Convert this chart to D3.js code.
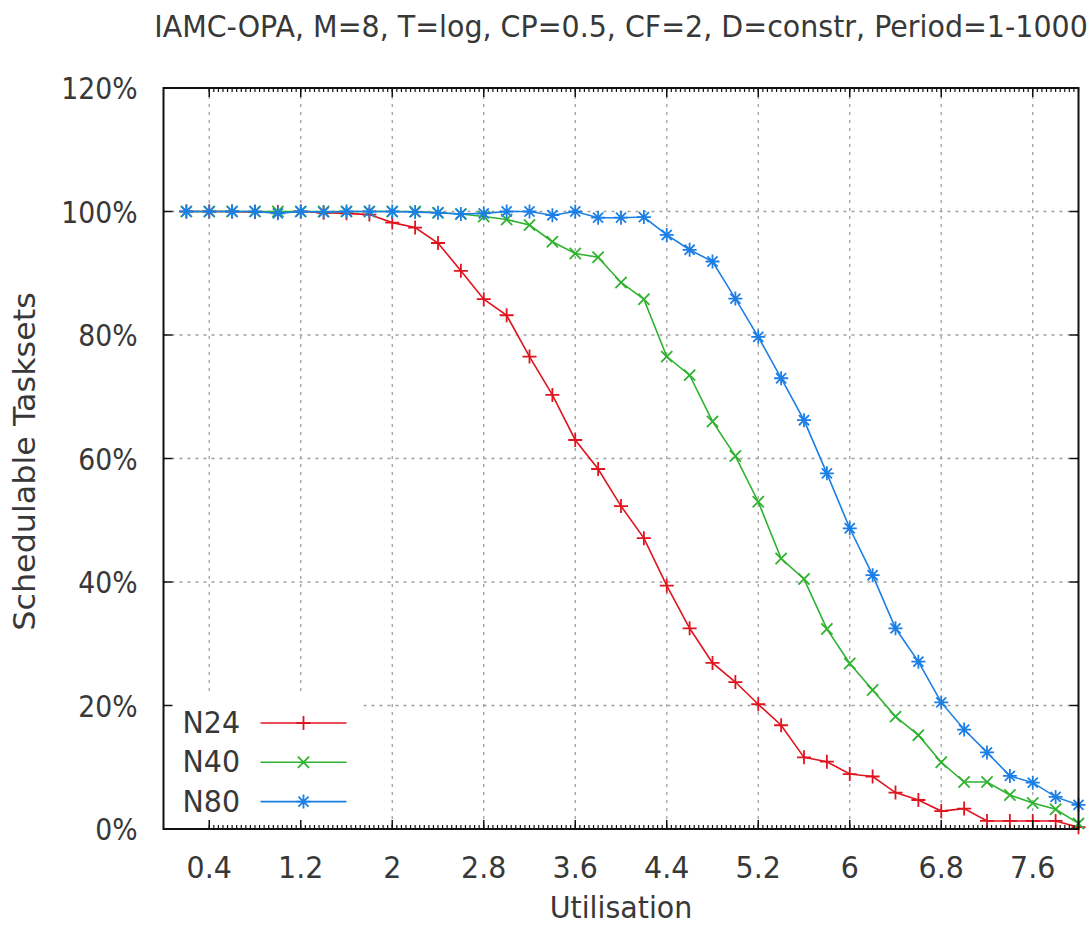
<!DOCTYPE html>
<html>
<head>
<meta charset="utf-8">
<script src="https://cdn.jsdelivr.net/npm/d3@7"></script>
<style>
body{margin:0;background:#fff}
svg text{font-family:"DejaVu Sans",sans-serif;fill:#383838}
</style>
</head>
<body>
<svg width="1090" height="940"></svg>
<script>
// utilisation steps on the x axis
const utilisation = [0.2,0.4,0.6,0.8,1.0,1.2,1.4,1.6,1.8,2.0,2.2,2.4,2.6,2.8,3.0,3.2,3.4,3.6,3.8,4.0,
    4.2,4.4,4.6,4.8,5.0,5.2,5.4,5.6,5.8,6.0,6.2,6.4,6.6,6.8,7.0,7.2,7.4,7.6,7.8,8.0]

const n24 = [100,100,100,99.9,99.9,100,99.8,99.7,99.5,98.2,97.4,94.9,90.4,85.8,83.2,76.5,70.3,63.0,58.3,52.3,
    47.1,39.4,32.5,26.9,23.8,20.2,16.8,11.6,10.9,8.9,8.5,5.9,4.7,2.9,3.3,1.3,1.3,1.3,1.3,0.3]
const n40 = [100,100,100,100,100,100,100,100,100,100,100,99.8,99.6,99.2,98.7,97.8,95.1,93.2,92.6,88.5,
    85.8,76.5,73.5,66.0,60.4,53.0,43.8,40.5,32.4,26.8,22.5,18.2,15.2,10.8,7.6,7.6,5.5,4.2,3.2,0.9]
const n80 = [100,100,100,100,99.7,100,99.9,100,100,100,99.9,99.8,99.6,99.7,100,100,99.4,100,99.0,99.0,
    99.1,96.2,93.8,91.9,85.9,79.7,73.0,66.2,57.6,48.7,41.1,32.5,27.1,20.5,16.1,12.4,8.6,7.5,5.2,3.9]

const seriesNames = ["N24","N40","N80"]
const xTicks = [0.4,1.2,2,2.8,3.6,4.4,5.2,6,6.8,7.6]
const yTicks = [0,20,40,60,80,100,120]
const title = "IAMC-OPA, M=8, T=log, CP=0.5, CF=2, D=constr, Period=1-1000"

const svg = d3.select("svg")
const margin = {top:88,right:11.5,bottom:111,left:163.5}
const width = +svg.attr("width") - margin.left - margin.right
const height = +svg.attr("height") - margin.top - margin.bottom
const fontSize = 30

const chart = svg.append("g")
    .attr("transform", `translate(${margin.left},${margin.top})`)

const x = d3.scaleLinear().domain([0,8]).range([0,width])
const y = d3.scaleLinear().domain([0,120]).range([height,0])

const color = d3.scaleOrdinal().domain(seriesNames).range(["#e0141e","#2fb22f","#1c7fe6"])

// the png was stretched, so text is squeezed a little along its length
function label(parent, tx, ty, str, anchor, rot, sx){
    return parent.append("text")
        .attr("transform", `translate(${tx},${ty})${rot ? ` rotate(${rot})` : ""} scale(${sx || 0.95},1)`)
        .attr("text-anchor", anchor || "middle")
        .style("font-size", fontSize + "px")
        .text(str)
}

// grid
chart.append("g").selectAll("line.vg")
    .data(xTicks).enter().append("line")
    .attr("x1", d=>x(d)).attr("x2", d=>x(d))
    .attr("y1", 0).attr("y2", height)
    .attr("stroke", "#a0a0a0").attr("stroke-width", 1.3).attr("stroke-dasharray", "3,5")
chart.append("g").selectAll("line.hg")
    .data(yTicks.slice(1, -1)).enter().append("line")
    .attr("x1", 0).attr("x2", width)
    .attr("y1", d=>y(d)).attr("y2", d=>y(d))
    .attr("stroke", "#a0a0a0").attr("stroke-width", 1.3).attr("stroke-dasharray", "3,5")

// legend box hides the grid under it
chart.append("rect")
    .attr("x", 1).attr("y", 607).attr("width", 199).attr("height", height - 608)
    .attr("fill", "#fff")

function markerPath(name, s){
    const p = d3.path()
    if (name === "N24" || name === "N80"){
        p.moveTo(-s,0); p.lineTo(s,0); p.moveTo(0,-s); p.lineTo(0,s)
    }
    if (name === "N40" || name === "N80"){
        const t = name === "N80" ? s*0.72 : s*0.8
        p.moveTo(-t,-t); p.lineTo(t,t); p.moveTo(-t,t); p.lineTo(t,-t)
    }
    return p.toString()
}

const series = [
    {name:"N24", values:n24},
    {name:"N40", values:n40},
    {name:"N80", values:n80}
]

const line = d3.line()
    .x((d,i)=>x(utilisation[i]))
    .y(d=>y(d))

series.forEach(s=>{
    const g = chart.append("g")
    g.append("path")
        .datum(s.values)
        .attr("fill", "none")
        .attr("stroke", color(s.name))
        .attr("stroke-width", 1.6)
        .attr("d", line)
    g.selectAll("path.mk")
        .data(s.values).enter().append("path")
        .attr("class", "mk")
        .attr("transform", (d,i)=>`translate(${x(utilisation[i])},${y(d)})`)
        .attr("d", markerPath(s.name, 7))
        .attr("fill", "none")
        .attr("stroke", color(s.name))
        .attr("stroke-width", 1.8)
})

// frame and ticks
chart.append("rect")
    .attr("width", width).attr("height", height)
    .attr("fill", "none").attr("stroke", "#111").attr("stroke-width", 2)

const minor = d3.range(10, 201).map(i=>i*0.04)
chart.append("g").selectAll("line")
    .data(minor).enter().append("line")
    .attr("x1", d=>x(d)).attr("x2", d=>x(d))
    .attr("y1", height).attr("y2", height - 4)
    .attr("stroke", "#111").attr("stroke-width", 1.2)
chart.append("g").selectAll("line")
    .data(minor).enter().append("line")
    .attr("x1", d=>x(d)).attr("x2", d=>x(d))
    .attr("y1", 0).attr("y2", 4)
    .attr("stroke", "#111").attr("stroke-width", 1.2)

chart.append("g").selectAll("line")
    .data(xTicks).enter().append("line")
    .attr("x1", d=>x(d)).attr("x2", d=>x(d))
    .attr("y1", height).attr("y2", height - 9)
    .attr("stroke", "#111").attr("stroke-width", 1.5)
chart.append("g").selectAll("line")
    .data(xTicks).enter().append("line")
    .attr("x1", d=>x(d)).attr("x2", d=>x(d))
    .attr("y1", 0).attr("y2", 9)
    .attr("stroke", "#111").attr("stroke-width", 1.5)
chart.append("g").selectAll("line")
    .data(yTicks).enter().append("line")
    .attr("x1", 0).attr("x2", 9)
    .attr("y1", d=>y(d)).attr("y2", d=>y(d))
    .attr("stroke", "#111").attr("stroke-width", 1.5)
chart.append("g").selectAll("line")
    .data(yTicks).enter().append("line")
    .attr("x1", width).attr("x2", width - 9)
    .attr("y1", d=>y(d)).attr("y2", d=>y(d))
    .attr("stroke", "#111").attr("stroke-width", 1.5)

// tick labels
xTicks.forEach(d=> label(chart, x(d), height + 49, d3.format("")(d)))
yTicks.forEach(d=> label(chart, -26, y(d) + 11, d + "%", "end", 0, 0.89))

// titles
label(svg, margin.left + width/2, 37, title)
label(svg, margin.left + width/2, 918, "Utilisation")
label(svg, 35, margin.top + height/2 + 3, "Schedulable Tasksets", "middle", -90, 1.06)

// legend
const legend = chart.append("g").attr("transform", "translate(0,635)")
series.forEach((s,i)=>{
    const ly = i * 39.3
    label(legend, 19, ly + 10, s.name, "start")
    legend.append("line")
        .attr("x1", 97).attr("x2", 183)
        .attr("y1", ly).attr("y2", ly)
        .attr("stroke", color(s.name)).attr("stroke-width", 1.6)
    legend.append("path")
        .attr("transform", `translate(140,${ly})`)
        .attr("d", markerPath(s.name, 7))
        .attr("fill", "none")
        .attr("stroke", color(s.name))
        .attr("stroke-width", 1.8)
})
</script>
</body>
</html>
